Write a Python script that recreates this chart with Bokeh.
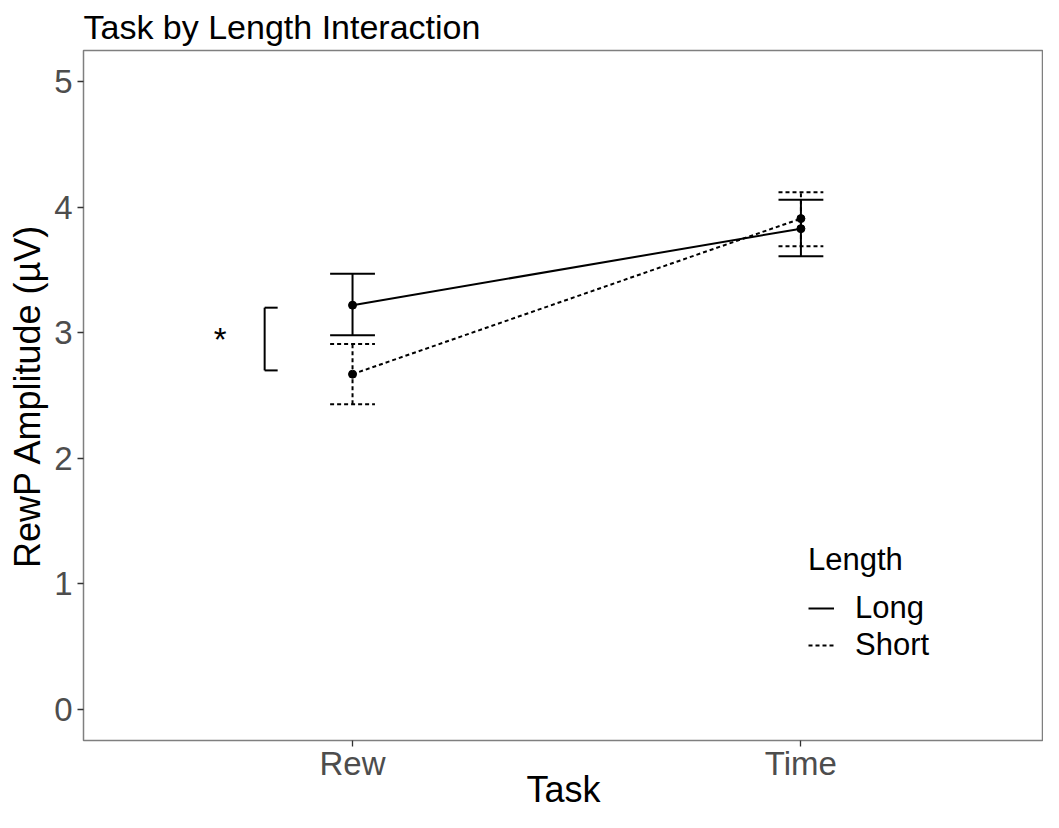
from bokeh.plotting import figure
from bokeh.models import Range1d, FixedTicker, Legend, LegendItem, ColumnDataSource
from bokeh.core.properties import value
from bokeh.embed import file_html
from bokeh.resources import INLINE

# ---- data ----
tasks = ["Rew", "Time"]
lengths = ["Long", "Short"]
long_mean = [3.22, 3.83]
long_lower = [2.98, 3.61]
long_upper = [3.47, 4.06]
short_mean = [2.67, 3.91]
short_lower = [2.43, 3.69]
short_upper = [2.91, 4.12]
bracket_low = 2.70
bracket_high = 3.20
sig_label = "*"
y_ticks = [0, 1, 2, 3, 4, 5]
x_title = "Task"
y_title = "RewP Amplitude (µV)"
legend_title = "Length"

FONT = "Liberation Sans"
xpos = [i + 1 for i in range(len(tasks))]

p = figure(width=1043, height=812, output_backend="svg", toolbar_location=None,
           x_range=Range1d(0.4, 2.541), y_range=Range1d(-0.25, 5.25),
           min_border_left=83, min_border_right=0, min_border_top=48, min_border_bottom=66,
           title="Task by Length Interaction")

p.title.text_font = FONT
p.title.text_font_size = "34px"
p.title.text_font_style = "normal"
p.title.text_color = "black"
p.title.text_line_height = 0.9
p.title.align = "left"
p.title.offset = 0
p.title.standoff = 10

p.xgrid.visible = False
p.ygrid.visible = False
p.outline_line_color = "#7f7f7f"
p.outline_line_width = 1.5
p.background_fill_color = "white"
p.border_fill_color = "white"

# axes
p.xaxis.ticker = FixedTicker(ticks=xpos)
p.xaxis.major_label_overrides = {x: t for x, t in zip(xpos, tasks)}
p.yaxis.ticker = FixedTicker(ticks=y_ticks)
for ax in (p.xaxis[0], p.yaxis[0]):
    ax.axis_line_color = None
    ax.major_tick_line_color = "#333333"
    ax.major_tick_line_width = 1.3
    ax.major_tick_out = 6
    ax.major_tick_in = 0
    ax.minor_tick_line_color = None
    ax.major_label_text_font = FONT
    ax.major_label_text_font_size = "33px"
    ax.major_label_text_color = "#4d4d4d"
    ax.axis_label_text_font = FONT
    ax.axis_label_text_font_size = "36px"
    ax.axis_label_text_font_style = "normal"
    ax.axis_label_text_color = "black"
p.xaxis.axis_label = x_title
p.yaxis.axis_label = y_title
p.xaxis.major_label_standoff = -2
p.xaxis.axis_label_standoff = -16
p.yaxis.major_label_standoff = 5
p.yaxis.axis_label_standoff = 3

# series
cap = 0.05
series = [
    (long_mean, long_lower, long_upper, "solid"),
    (short_mean, short_lower, short_upper, "4 3"),
]
renderers = []
for mean, lo, hi, dash in series:
    src = ColumnDataSource(dict(x=xpos, y=mean, lo=lo, hi=hi,
                                xl=[x - cap for x in xpos], xr=[x + cap for x in xpos]))
    r = p.line("x", "y", source=src, line_color="black", line_width=2, line_dash=dash)
    renderers.append(r)
    p.segment("x", "lo", "x", "hi", source=src, line_color="black", line_width=2, line_dash=dash)
    p.segment("xl", "lo", "xr", "lo", source=src, line_color="black", line_width=2, line_dash=dash)
    p.segment("xl", "hi", "xr", "hi", source=src, line_color="black", line_width=2, line_dash=dash)
    p.scatter("x", "y", source=src, size=8, fill_color="black", line_color="black")

# significance bracket
bx0, bx1 = 0.804, 0.833
p.segment(x0=[bx0, bx0, bx0], y0=[bracket_low, bracket_low, bracket_high],
          x1=[bx0, bx1, bx1], y1=[bracket_high, bracket_low, bracket_high],
          line_color="black", line_width=2)
p.text(x=[0.705], y=[(bracket_low + bracket_high) / 2], text=[sig_label],
       text_font=value(FONT), text_font_size="33px", text_color="black",
       text_align="center", text_baseline="middle")


def style_legend(lg):
    lg.border_line_color = None
    lg.background_fill_alpha = 0
    lg.padding = 0
    lg.margin = 0
    lg.spacing = 0
    lg.glyph_width = 26
    lg.glyph_height = 30
    lg.label_height = 30
    lg.label_standoff = 21
    lg.label_text_font = FONT
    lg.label_text_font_size = "31px"
    lg.label_text_color = "black"
    lg.title_text_font = FONT
    lg.title_text_font_size = "31px"
    lg.title_text_color = "black"
    lg.title_text_font_style = "normal"
    lg.title_standoff = 12


# legend: title + first item, second item placed tightly beneath it
legend_a = Legend(items=[LegendItem(label=lengths[0], renderers=[renderers[0]])],
                  title=legend_title, location=(725, 114))
legend_b = Legend(items=[LegendItem(label=lengths[1], renderers=[renderers[1]])],
                  location=(725, 77))
style_legend(legend_a)
style_legend(legend_b)
p.add_layout(legend_a)
p.add_layout(legend_b)

open("out.html", "w").write(file_html(p, INLINE))
